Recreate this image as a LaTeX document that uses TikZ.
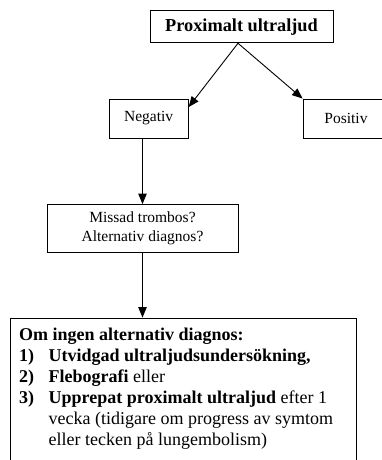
\documentclass[tikz,border=0pt]{standalone}
\usepackage{fontspec}
\setmainfont{Liberation Serif}
\usetikzlibrary{arrows.meta}
\begin{document}
\begin{tikzpicture}[x=1pt,y=-1pt,
  box/.style={draw=black,line width=0.9pt,inner sep=0pt,align=center,
    font=\fontsize{15.5}{19}\selectfont},
  flow/.style={draw=black,line width=0.9pt,-{Triangle[length=10.5pt,width=8.5pt]}}]
\clip (0,0) rectangle (382,460);

% decision tree boxes
\node[box,minimum width=183pt,minimum height=32pt,
  font=\fontsize{18.3}{22}\selectfont\bfseries] (top) at (241.5,26.8) {Proximalt ultraljud};
\node[box,minimum width=79pt,minimum height=39pt] (neg) at (148.7,118.5) {Negativ};
\node[box,minimum width=86pt,minimum height=39pt] (pos) at (346,118.5) {Positiv};
\node[box,minimum width=191pt,minimum height=48pt] (miss) at (142.5,228.5)
  {Missad trombos?\\Alternativ diagnos?};
\node[box,minimum width=346pt,minimum height=157pt] (bot) at (183,396.5) {};

% recommendations inside the last box
\node[anchor=north west,inner sep=0pt,align=left,
  font=\fontsize{18}{21}\selectfont] (txt) at (19,327.8)
  {\textbf{Om ingen alternativ diagnos:}\\
   \makebox[29.5pt][l]{\textbf{1)}}\textbf{Utvidgad ultraljudsundersökning,}\\
   \makebox[29.5pt][l]{\textbf{2)}}\textbf{Flebografi} eller\\
   \makebox[29.5pt][l]{\textbf{3)}}\textbf{Upprepat proximalt ultraljud} efter 1\\
   \hspace*{29.5pt}vecka (tidigare om progress av symtom\\
   \hspace*{29.5pt}eller tecken på lungembolism)};

% connectors
\coordinate (split) at ([xshift=-3.5pt]top.south);
\draw[flow] (split) -- (neg.16);
\draw[flow] (split) -- (pos.north west);
\draw[flow] (miss.north |- neg.south) -- (miss.north);
\draw[flow] (miss.south) -- (miss.south |- bot.north);
\end{tikzpicture}
\end{document}
